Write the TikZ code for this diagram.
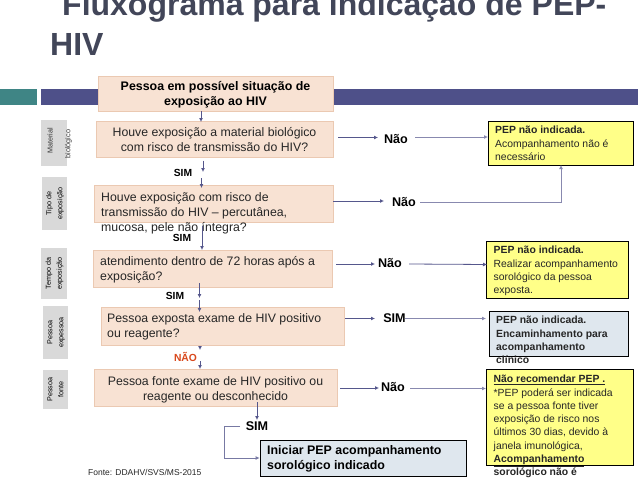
\documentclass[tikz,border=0pt]{standalone}
\usepackage{fontspec}
\setmainfont{Liberation Sans}
\usetikzlibrary{arrows.meta}
\definecolor{titlec}{HTML}{424659}
\definecolor{tealbar}{HTML}{3F8585}
\definecolor{purplebar}{HTML}{4E5089}
\definecolor{peach}{HTML}{F8E2D3}
\definecolor{peachb}{HTML}{EBC9B2}
\definecolor{greyb}{HTML}{D9D9D9}
\definecolor{yellowb}{HTML}{FFFF88}
\definecolor{blueb}{HTML}{DFE7EE}
\definecolor{arrowc}{HTML}{55578C}
\definecolor{naored}{HTML}{D9481C}
\definecolor{txt}{HTML}{262626}
\newcommand{\fsA}{\fontsize{12.3}{15}\selectfont}
\newcommand{\fsB}{\fontsize{10.4}{13.3}\selectfont}
\newcommand{\fsC}{\fontsize{7.2}{9}\selectfont}
\newcommand{\fsD}{\fontsize{10.3}{12}\selectfont\bfseries}
\tikzset{
  peachbox/.style={draw=peachb,fill=peach,line width=.7pt,inner sep=0pt},
  peachtext/.style={inner sep=0pt,text=txt,font=\fsA},
  notebox/.style={draw=black,line width=.8pt,inner sep=0pt},
  bodytext/.style={inner sep=0pt,align=left,anchor=north west,text=txt,font=\fsB},
  decision/.style={inner sep=0pt,font=\fontsize{12.6}{14}\selectfont\bfseries,text=black},
  sidebox/.style={fill=greyb,inner sep=0pt},
  sidetext/.style={inner sep=0pt,rotate=90,font=\fsC,text=black!80,align=center},
  flow/.style={draw=arrowc,line width=.8pt,-{Latex[length=4pt,width=4pt]}},
}
\begin{document}
\begin{tikzpicture}[x=1pt,y=-1pt]
\useasboundingbox (0,0) rectangle (638,479);
\clip (0,0) rectangle (638,479);
\fill[white] (0,0) rectangle (638,479);
% title
\node[inner sep=0pt,anchor=base west,text=titlec,font=\fontsize{32}{32}\selectfont\bfseries] (t1) at (62,16) {Fluxograma para indicação de PEP-};
\node[inner sep=0pt,anchor=base west,text=titlec,font=\fontsize{32}{32}\selectfont\bfseries] (t2) at (50,55.5) {HIV};
% bars
\fill[tealbar] (0,89) rectangle (37,105);
\fill[purplebar] (41,89) rectangle (638,105);
% side labels
\node[sidebox,minimum width=26pt,minimum height=46pt] (s1) at (54,143) {};
\node[sidetext] (s1a) at (50,141) {Material};
\node[sidetext] (s1b) at (68.5,144) {biológico};
\node[sidebox,minimum width=25pt,minimum height=53pt] (s2) at (54.5,203.5) {\rotatebox{90}{\begin{tabular}{@{}c@{}}\fsC Tipo de\\[-1pt]\fsC exposição\end{tabular}}};
\node[sidebox,minimum width=26pt,minimum height=51pt] (s3) at (54,273.5) {\rotatebox{90}{\begin{tabular}{@{}c@{}}\fsC Tempo da\\[-1pt]\fsC exposição\end{tabular}}};
\node[sidebox,minimum width=25pt,minimum height=53pt] (s4) at (55.5,332.5) {\rotatebox{90}{\begin{tabular}{@{}c@{}}\fsC Pessoa\\[-1pt]\fsC expessoa\end{tabular}}};
\node[sidebox,minimum width=25pt,minimum height=39pt] (s5) at (55.5,389.5) {\rotatebox{90}{\begin{tabular}{@{}c@{}}\fsC Pessoa\\[-1pt]\fsC fonte\end{tabular}}};
% main boxes
\node[peachbox,minimum width=235pt,minimum height=35pt] (b0) at (215.5,93.5) {};
\node[peachtext,align=center,font=\fontsize{12.4}{15}\selectfont\bfseries,text=black] (b0t) at (215.5,95) {Pessoa em possível situação de\\exposição ao HIV};
\node[peachbox,minimum width=237pt,minimum height=36pt] (b1) at (214.5,139) {};
\node[peachtext,align=center] (b1t) at (214.5,140) {Houve exposição a material biológico\\com risco de transmissão do HIV?};
\node[peachbox,minimum width=239pt,minimum height=37pt] (b2) at (213.5,203.5) {};
\node[peachtext,align=left,anchor=north west] (b2t) at (101,192) {Houve exposição com risco de\\transmissão do HIV – percutânea,\\mucosa, pele não íntegra?};
\node[peachbox,minimum width=239pt,minimum height=37pt] (b3) at (212.5,268.5) {};
\node[peachtext,align=left,anchor=west] (b3t) at (100,270) {atendimento dentro de 72 horas após a\\exposição?};
\node[peachbox,minimum width=243pt,minimum height=38pt] (b4) at (222.5,326) {};
\node[peachtext,align=left,anchor=west] (b4t) at (107,327) {Pessoa exposta exame de HIV positivo\\ou reagente?};
\node[peachbox,minimum width=243pt,minimum height=37pt] (b5) at (215.5,387.5) {};
\node[peachtext,align=center] (b5t) at (215.5,389.5) {Pessoa fonte exame de HIV positivo ou\\reagente ou desconhecido};
% note boxes
\node[notebox,fill=yellowb,minimum width=145pt,minimum height=44pt] (y1) at (560.5,143) {};
\node[bodytext] (y1t) at (495,126) {\textbf{PEP não indicada.}\\Acompanhamento não é\\necessário};
\node[notebox,fill=yellowb,minimum width=142pt,minimum height=57pt] (y2) at (557,269.5) {};
\node[bodytext] (y2t) at (493.5,246) {\textbf{PEP não indicada.}\\Realizar acompanhamento\\sorológico da pessoa\\exposta.};
\node[notebox,fill=blueb,minimum width=139pt,minimum height=45pt] (y4) at (558.5,333.5) {};
\node[bodytext,font=\fsB\bfseries] (y4t) at (496,316) {PEP não indicada.\\Encaminhamento para\\acompanhamento\\clínico};
\node[notebox,fill=yellowb,minimum width=147pt,minimum height=96pt] (y5) at (559.5,417) {};
\node[bodytext] (y5t) at (493.5,375) {\textbf{\underline{Não recomendar PEP .}}\\*PEP poderá ser indicada\\se a pessoa fonte tiver\\exposição de risco nos\\últimos 30 dias, devido à\\janela imunológica,\\\textbf{\underline{Acompanhamento}}\\\textbf{\underline{sorológico não é}}\\\textbf{\underline{necessário}}};
\node[notebox,fill=blueb,minimum width=206pt,minimum height=36pt] (ini) at (363,458) {};
\node[inner sep=0pt,align=left,anchor=west,font=\fontsize{12.4}{15.5}\selectfont\bfseries,text=black] (init) at (267,459) {Iniciar PEP acompanhamento\\sorológico indicado};
\node[inner sep=0pt,anchor=west,font=\fontsize{8.5}{10}\selectfont,text=txt] (fonte) at (88,472) {Fonte: DDAHV/SVS/MS-2015};
% labels
\node[inner sep=0pt,font=\fsD] (sim1) at (183,173) {SIM};
\node[inner sep=0pt,font=\fsD] (sim2) at (182,238) {SIM};
\node[inner sep=0pt,font=\fsD] (sim3) at (175,296) {SIM};
\node[inner sep=0pt,font=\fsD,text=naored] (nao4) at (185.5,357) {NÃO};
\node[decision] (simf) at (257,426) {SIM};
\node[decision] (n1) at (396,139) {Não};
\node[decision] (n2) at (404,202) {Não};
\node[decision] (n3) at (390,263) {Não};
\node[decision] (s4r) at (394.5,318.5) {SIM};
\node[decision] (n5) at (393,387.5) {Não};
% anchor points of the connector ends
\coordinate (a1s) at (338,137.5); \coordinate (a1e) at (378,137.5);
\coordinate (a1f) at (415,137); \coordinate (a1g) at (488,137);
\coordinate (a2s) at (333,201); \coordinate (a2e) at (384,201);
\coordinate (a2f) at (420,202); \coordinate (a2g) at (561,202); \coordinate (a2h) at (561,165);
\coordinate (a3s) at (336,264); \coordinate (a3e) at (375,264);
\coordinate (a3f) at (409,264); \coordinate (a3g) at (487,264.5);
\coordinate (a4s) at (345,318.5); \coordinate (a4e) at (375,318.5);
\coordinate (a4f) at (405,318.5); \coordinate (a4g) at (486,318.5);
\coordinate (a5s) at (340,388); \coordinate (a5e) at (379,388);
\coordinate (a5f) at (410,388.5); \coordinate (a5g) at (486,388.5);
\coordinate (af) at (240,426); \coordinate (ag) at (224,426); \coordinate (ah) at (224,458);
% connectors
\draw[flow] (201,111) -- (201,122);
\draw[flow] (203,160.5) -- (203,172);
\draw[flow] (201.5,178) -- (201.5,188);
\draw[flow] (202,226) -- (202,250);
\draw[flow] (199.5,283) -- (199.5,298);
\draw[flow] (199.5,300) -- (199.5,312);
\draw[flow] (200,346) -- (200,350);
\draw[flow] (200,361) -- (200,369);
\draw[flow] (257,402) -- (257,420);
\draw[flow] (a1s) -- (a1e);
\draw[flow,draw=arrowc!70] (a1f) -- (a1g);
\draw[flow] (a2s) -- (a2e);
\draw[flow,draw=arrowc!70] (a2f) -- (a2g) -- (a2h);
\draw[flow] (a3s) -- (a3e);
\draw[flow] (a3f) -- (a3g);
\draw[flow] (a4s) -- (a4e);
\draw[flow,draw=arrowc!70] (a4f) -- (a4g);
\draw[flow] (a5s) -- (a5e);
\draw[flow,draw=arrowc!70] (a5f) -- (a5g);
\draw[flow,draw=arrowc!80] (af) -- (ag) -- (ah) -- (ini.west);
\end{tikzpicture}
\end{document}
